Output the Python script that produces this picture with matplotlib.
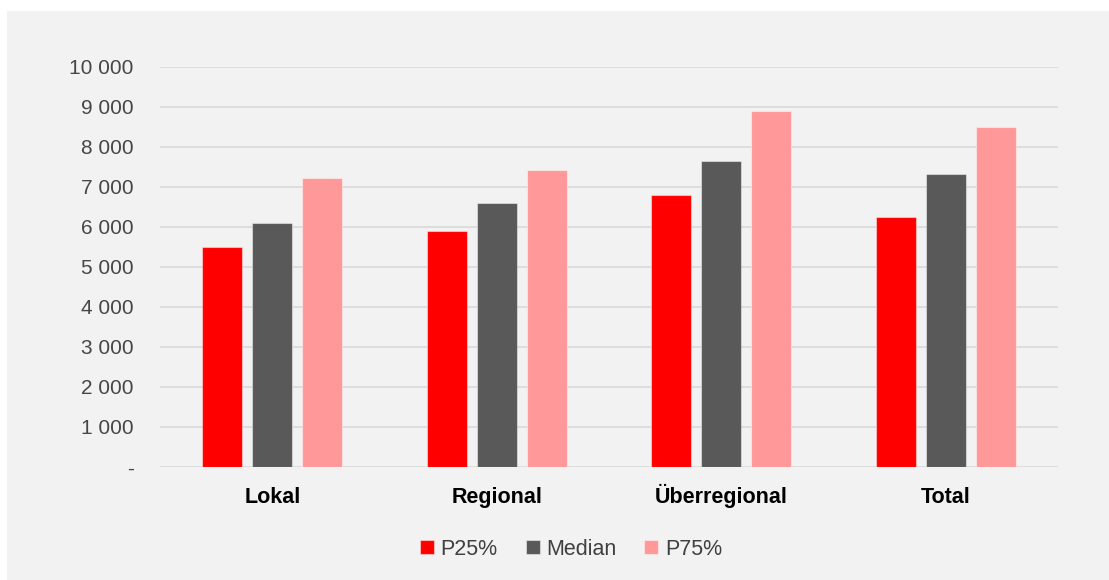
import numpy as np
import matplotlib.pyplot as plt
from matplotlib.patches import Rectangle

# data
categories = ['Lokal', 'Regional', 'Überregional', 'Total']
p25 = [5510, 5900, 6790, 6250]
median = [6090, 6600, 7640, 7325]
p75 = [7235, 7420, 8890, 8510]
series_names = ['P25%', 'Median', 'P75%']
yticks = [0, 1000, 2000, 3000, 4000, 5000, 6000, 7000, 8000, 9000, 10000]

colors = ['#ff0000', '#595959', '#ff9999']
panel_bg = '#f2f2f2'
grid_col = '#d9d9d9'

plt.rcParams['font.family'] = ['Liberation Sans', 'DejaVu Sans']

fig = plt.figure(figsize=(11.09, 5.80), dpi=100)
fig.patch.set_facecolor('white')
fig.patches.append(Rectangle((7 / 1109, 0), 1 - 7 / 1109, 1 - 11 / 580,
                             transform=fig.transFigure, facecolor=panel_bg,
                             edgecolor='none', zorder=-10))

ax = fig.add_axes([160 / 1109, 113 / 580, 898 / 1109, 400 / 580])
ax.patch.set_alpha(0)

x = np.arange(len(categories))
offset = 0.223
width = 0.178
for i, (vals, name) in enumerate(zip([p25, median, p75], series_names)):
    ax.bar(x + (i - 1) * offset, vals, width, color=colors[i], label=name,
           edgecolor=(1, 1, 1, 0.45), linewidth=0.8, zorder=3)

ax.set_xlim(-0.5, len(categories) - 0.5)
ax.set_ylim(0, 10000)
ax.set_yticks(yticks)
ax.set_yticklabels(['-' if v == 0 else f'{v:,}'.replace(',', ' ') for v in yticks])
ax.set_xticks(x)
ax.set_xticklabels(categories, fontweight='bold', fontsize=15.5, color='black')
for lbl in ax.get_xticklabels():
    lbl.set_verticalalignment('baseline')
ax.tick_params(axis='y', length=0, pad=19, labelsize=15, labelcolor='#474747')
ax.tick_params(axis='x', length=0, pad=26)

ax.yaxis.grid(True, color=grid_col, linewidth=1.2, zorder=0)
ax.set_axisbelow(True)
for s in ax.spines.values():
    s.set_visible(False)

fig.legend(loc='center', bbox_to_anchor=(0.515, 0.053), ncol=3, frameon=False,
           fontsize=15.5, handlelength=0.65, handleheight=0.65,
           handletextpad=0.3, columnspacing=1.3, labelcolor='#404040')

fig.savefig('out.png', dpi=100, facecolor=fig.get_facecolor())
